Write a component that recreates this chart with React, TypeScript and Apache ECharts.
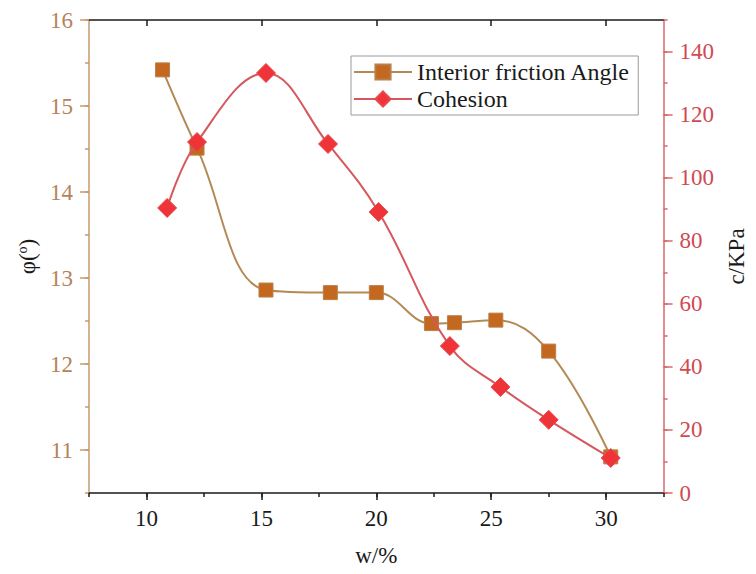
import React, { useEffect, useRef } from 'react';
import * as echarts from 'echarts';

const frictionW = [10.7, 12.2, 15.2, 18.0, 20.0, 22.4, 23.4, 25.2, 27.5, 30.2];
const frictionPhi = [15.42, 14.51, 12.86, 12.83, 12.83, 12.47, 12.48, 12.51, 12.15, 10.92];
const cohesionW = [10.9, 12.2, 15.2, 17.9, 20.1, 23.2, 25.4, 27.5, 30.2];
const cohesionC = [90.4, 111.3, 133.2, 110.7, 89.1, 46.6, 33.6, 23.2, 11.1];
const xTicks = [10, 15, 20, 25, 30];
const phiTicks = [11, 12, 13, 14, 15, 16];
const cTicks = [0, 20, 40, 60, 80, 100, 120, 140];

const FONT = 'Liberation Serif';
const BROWN_AXIS = '#c49a6c';
const BROWN_TEXT = '#b5835a';
const RED_AXIS = '#d9676c';
const RED_TEXT = '#cf4a52';
const BLACK = '#1a1a1a';

export default function App() {
  const ref = useRef<HTMLDivElement>(null);
  useEffect(() => {
    if (!ref.current) return;
    const chart = echarts.init(ref.current, undefined, { renderer: 'svg' });
    const xBase = { type: 'value', min: 7.5, max: 32.5, interval: 2.5, splitLine: { show: false } };
    const phiBase = { type: 'value', min: 10.5, max: 16, interval: 0.5, splitLine: { show: false } };
    const cBase = { type: 'value', min: 0, max: 150, interval: 10, splitLine: { show: false } };
    chart.setOption({
      animation: false,
      backgroundColor: '#ffffff',
      textStyle: { fontFamily: FONT },
      grid: { left: 89, right: 81, top: 20, bottom: 81 },
      legend: {
        orient: 'vertical',
        left: 351,
        top: 56,
        padding: [4, 8, 4, 2],
        itemGap: 3,
        itemWidth: 58,
        itemHeight: 19,
        borderColor: '#9a9a9a',
        borderWidth: 1,
        textStyle: { fontFamily: FONT, fontSize: 24, color: BLACK },
        data: ['Interior friction Angle', 'Cohesion'],
      },
      xAxis: [
        {
          ...xBase,
          position: 'bottom',
          axisLine: { show: true, lineStyle: { color: BLACK, width: 1.5 } },
          axisTick: { show: true, customValues: xTicks, length: 7, lineStyle: { color: BLACK, width: 1.5 } },
          axisLabel: { customValues: xTicks, fontFamily: FONT, fontSize: 23, color: BLACK, margin: 14 },
          name: 'w/%',
          nameLocation: 'middle',
          nameGap: 51,
          nameTextStyle: { fontFamily: FONT, fontSize: 23, color: BLACK },
        },
        {
          ...xBase,
          position: 'bottom',
          axisLine: { show: false },
          axisTick: { show: true, length: 4, lineStyle: { color: BLACK, width: 1.5 } },
          axisLabel: { show: false },
        },
        {
          ...xBase,
          position: 'top',
          axisLine: { show: true, lineStyle: { color: BLACK, width: 1.5 } },
          axisTick: { show: true, inside: true, customValues: xTicks, length: 6, lineStyle: { color: BLACK, width: 1.5 } },
          axisLabel: { show: false },
        },
      ],
      yAxis: [
        {
          ...phiBase,
          position: 'left',
          axisLine: { show: true, lineStyle: { color: BROWN_AXIS, width: 1.5 } },
          axisTick: { show: true, length: 4, lineStyle: { color: BROWN_AXIS, width: 1.5 } },
          axisLabel: { customValues: phiTicks, fontFamily: FONT, fontSize: 23, color: BROWN_TEXT, margin: 16 },
          name: '{a|φ(}{s|o}{a|)}',
          nameLocation: 'middle',
          nameGap: 45,
          nameRotate: 90,
          nameTextStyle: {
            fontFamily: FONT,
            color: BLACK,
            rich: {
              a: { fontFamily: FONT, fontSize: 23, color: BLACK, lineHeight: 24 },
              s: { fontFamily: FONT, fontSize: 14, color: BLACK, verticalAlign: 'top', lineHeight: 24 },
            },
          },
        },
        {
          ...phiBase,
          position: 'left',
          axisLine: { show: false },
          axisTick: { show: true, customValues: phiTicks, length: 9, lineStyle: { color: BROWN_AXIS, width: 1.5 } },
          axisLabel: { show: false },
        },
        {
          ...cBase,
          position: 'right',
          axisLine: { show: true, lineStyle: { color: RED_AXIS, width: 1.5 } },
          axisTick: { show: true, length: 4, lineStyle: { color: RED_AXIS, width: 1.5 } },
          axisLabel: { customValues: cTicks, fontFamily: FONT, fontSize: 23, color: RED_TEXT, margin: 16 },
          name: 'c/KPa',
          nameLocation: 'middle',
          nameGap: 57,
          nameRotate: 90,
          nameTextStyle: { fontFamily: FONT, fontSize: 23, color: BLACK },
        },
        {
          ...cBase,
          position: 'right',
          axisLine: { show: false },
          axisTick: { show: true, customValues: cTicks, length: 9, lineStyle: { color: RED_AXIS, width: 1.5 } },
          axisLabel: { show: false },
        },
      ],
      series: [
        {
          name: 'Interior friction Angle',
          type: 'line',
          xAxisIndex: 0,
          yAxisIndex: 0,
          smooth: 0.4,
          symbol: 'rect',
          symbolSize: 14,
          data: frictionW.map((w, i) => [w, frictionPhi[i]]),
          lineStyle: { color: '#b38a55', width: 2 },
          itemStyle: { color: '#c4681f', borderColor: '#b8804a', borderWidth: 1 },
          z: 2,
        },
        {
          name: 'Cohesion',
          type: 'line',
          xAxisIndex: 0,
          yAxisIndex: 2,
          smooth: 0.4,
          symbol: 'diamond',
          symbolSize: 19,
          data: cohesionW.map((w, i) => [w, cohesionC[i]]),
          lineStyle: { color: '#d6575c', width: 2 },
          itemStyle: { color: '#ee3439', borderColor: '#e8484c', borderWidth: 1 },
          z: 3,
        },
      ],
    });
    return () => chart.dispose();
  }, []);
  return <div ref={ref} style={{ position: 'fixed', left: 0, top: 0, width: 756, height: 574 }} />;
}
